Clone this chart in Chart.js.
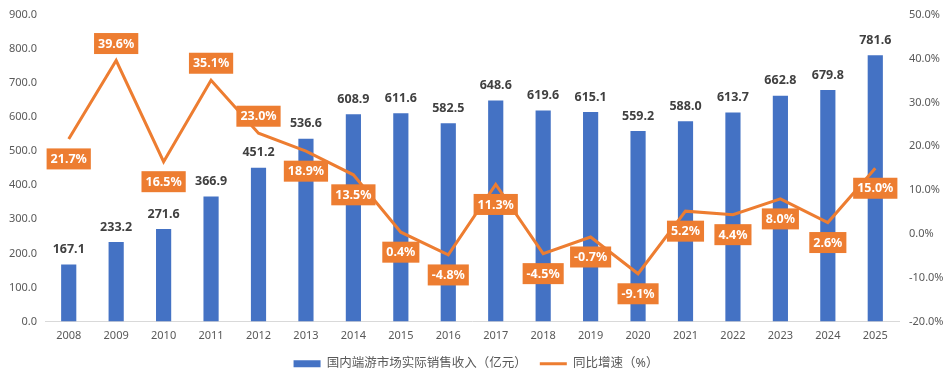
<!DOCTYPE html>
<html>
<head>
<meta charset="utf-8">
<script src="https://cdn.jsdelivr.net/npm/chart.js@4/dist/chart.umd.min.js"></script>
<style>
  html, body { margin: 0; padding: 0; background: #fff; }
  #wrap { width: 952px; height: 384px; }
</style>
</head>
<body>
<div id="wrap"><canvas id="c"></canvas></div>
<script>
const years = ['2008','2009','2010','2011','2012','2013','2014','2015','2016','2017','2018','2019','2020','2021','2022','2023','2024','2025'];
const revenue = [167.1, 233.2, 271.6, 366.9, 451.2, 536.6, 608.9, 611.6, 582.5, 648.6, 619.6, 615.1, 559.2, 588.0, 613.7, 662.8, 679.8, 781.6];
const growth = [21.7, 39.6, 16.5, 35.1, 23.0, 18.9, 13.5, 0.4, -4.8, 11.3, -4.5, -0.7, -9.1, 5.2, 4.4, 8.0, 2.6, 15.0];
// 哪些增速标签放在线上方
const growthAbove = [false, true, false, true, true, false, false, false, false, false, false, false, false, false, false, false, false, false];

const BLUE = '#4472C4';
const ORANGE = '#ED7D31';
const FONT = "'Noto Sans', 'Noto Sans CJK SC', sans-serif";

// 自己画数据标签（没有 datalabels 插件）
const labelPlugin = {
  id: 'labels',
  afterDatasetsDraw(chart) {
    const ctx = chart.ctx;
    ctx.save();
    ctx.textAlign = 'center';
    ctx.textBaseline = 'middle';

    // 柱子数值
    const barMeta = chart.getDatasetMeta(0);
    ctx.font = 'bold 12.5px ' + FONT;
    ctx.fillStyle = '#404040';
    barMeta.data.forEach((el, i) => {
      ctx.fillText(revenue[i].toFixed(1), el.x, el.y - 15);
    });

    // 增速标签：橙色底白字
    const lineMeta = chart.getDatasetMeta(1);
    lineMeta.data.forEach((el, i) => {
      const txt = growth[i].toFixed(1) + '%';
      const w = ctx.measureText(txt).width + 8;
      const h = 21;
      const cy = growthAbove[i] ? el.y - 17 : el.y + 20;
      ctx.fillStyle = ORANGE;
      ctx.fillRect(el.x - w / 2, cy - h / 2, w, h);
      ctx.fillStyle = '#fff';
      ctx.fillText(txt, el.x, cy + 0.5);
    });
    ctx.restore();
  }
};

const tickFont = { family: FONT, size: 11 };

new Chart(document.getElementById('c'), {
  data: {
    labels: years,
    datasets: [
      {
        type: 'bar',
        label: '国内端游市场实际销售收入（亿元）',
        data: revenue,
        backgroundColor: BLUE,
        categoryPercentage: 1,
        barPercentage: 0.32,
        yAxisID: 'y',
        order: 2
      },
      {
        type: 'line',
        label: '同比增速（%）',
        data: growth,
        borderColor: ORANGE,
        backgroundColor: ORANGE,
        borderWidth: 3,
        pointRadius: 0,
        tension: 0,
        yAxisID: 'y1',
        order: 1
      }
    ]
  },
  options: {
    responsive: true,
    maintainAspectRatio: false,
    animation: false,
    layout: { padding: { top: 15, bottom: 4 } },
    plugins: {
      tooltip: { enabled: false },
      legend: {
        position: 'bottom',
        labels: {
          usePointStyle: true,
          pointStyleWidth: 27,
          boxWidth: 27,
          boxHeight: 7,
          padding: 13,
          color: '#595959',
          font: { family: FONT, size: 12.5 },
          sort: (a, b) => a.datasetIndex - b.datasetIndex,
          generateLabels(chart) {
            const items = Chart.defaults.plugins.legend.labels.generateLabels(chart);
            items.forEach(it => {
              it.pointStyle = it.datasetIndex === 0 ? 'rect' : 'line';
              it.lineWidth = it.datasetIndex === 0 ? 0 : 3;
            });
            return items;
          }
        }
      }
    },
    scales: {
      x: {
        grid: { display: false },
        border: { color: '#d9d9d9' },
        ticks: { color: '#595959', font: tickFont, padding: 0 },
        afterFit(scale) { scale.height = 23; }
      },
      y: {
        position: 'left',
        min: 0,
        max: 900,
        grid: { display: false },
        border: { display: false },
        ticks: {
          stepSize: 100,
          color: '#595959',
          font: tickFont,
          padding: 0,
          callback: v => v.toFixed(1)
        },
        afterFit(scale) { scale.width = 45; }
      },
      y1: {
        position: 'right',
        min: -20,
        max: 50,
        grid: { display: false },
        border: { display: false },
        ticks: {
          stepSize: 10,
          color: '#595959',
          font: tickFont,
          padding: 2,
          callback: v => v.toFixed(1) + '%'
        },
        afterFit(scale) { scale.width = 53; }
      }
    }
  },
  plugins: [labelPlugin]
});
</script>
</body>
</html>
